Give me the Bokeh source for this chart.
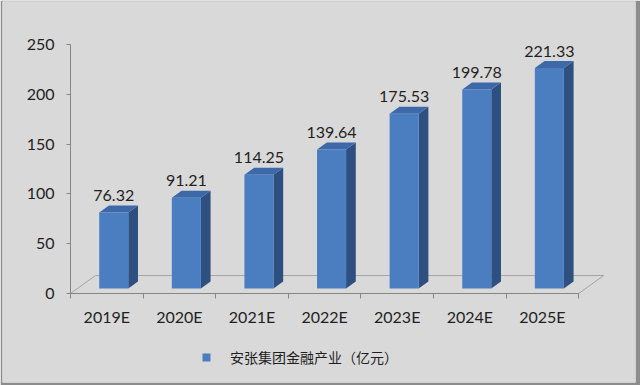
from bokeh.plotting import figure
from bokeh.models import Range1d, FixedTicker, Legend, LegendItem, ColumnDataSource, LinearAxis
from bokeh.embed import file_html
from bokeh.resources import INLINE
from bokeh.core.properties import value

categories = ["2019E", "2020E", "2021E", "2022E", "2023E", "2024E", "2025E"]
values = [76.32, 91.21, 114.25, 139.64, 175.53, 199.78, 221.33]
y_ticks = [0, 50, 100, 150, 200, 250]
series_name = "安张集团金融产业（亿元）"

n = len(categories)
xs = list(range(n))

# 3D geometry in data units
FLOOR_DX, FLOOR_DY = 0.344, 18.0
BAR_Z0 = 5.0 / 18.0
BAR_DEPTH = 7.0 / 18.0
BAR_LEFT, BAR_W = 0.30, 0.40

ddx = FLOOR_DX * BAR_DEPTH
ddy = FLOOR_DY * BAR_DEPTH
base = FLOOR_DY * BAR_Z0

L = [x - 0.5 + BAR_LEFT + FLOOR_DX * BAR_Z0 for x in xs]
R = [l + BAR_W for l in L]
B = [base] * n
T = [v + base for v in values]

front = ColumnDataSource(dict(left=L, right=R, bottom=B, top=T))
top_xs = [[l, r, r + ddx, l + ddx] for l, r in zip(L, R)]
top_ys = [[t, t, t + ddy, t + ddy] for t in T]
side_xs = [[r, r + ddx, r + ddx, r] for r in R]
side_ys = [[b, b + ddy, t + ddy, t] for b, t in zip(B, T)]

FONT = "Lato"
FS = "16px"
TXT = "#1f1f1f"
AX = "#868686"

p = figure(width=640, height=385, output_backend="svg", toolbar_location=None,
           x_range=Range1d(-1.4366, 7.282), y_range=Range1d(-89.4, 293.2),
           x_axis_type=None, y_axis_type=None,
           min_border_left=2, min_border_right=5, min_border_top=1, min_border_bottom=3)
p.border_fill_color = "#8c8c8c"
p.background_fill_color = "#d9d9d9"
p.outline_line_color = None

# floor
p.patch(x=[-0.5, 6.5, 6.5 + FLOOR_DX, -0.5 + FLOOR_DX],
        y=[0, 0, FLOOR_DY, FLOOR_DY],
        fill_color=None, line_color="#a3a3a3", line_width=1)

p.patches(xs=side_xs, ys=side_ys, fill_color="#2e5080", line_color=None)
p.patches(xs=top_xs, ys=top_ys, fill_color="#3d69a8", line_color=None)
front_r = p.quad(left="left", right="right", bottom="bottom", top="top", source=front,
                 fill_color="#4a7ec0", line_color=None)

# value labels
lab_x = [(l + r) / 2 for l, r in zip(L, R)]
lab_y = [t + ddy for t in T]
p.text(x=lab_x, y=lab_y, text=[f"{v:.2f}" for v in values], text_align="center",
       text_baseline="alphabetic", y_offset=-10, text_font=value(FONT),
       text_font_size=FS, text_color=TXT)

# y axis
yaxis = LinearAxis(fixed_location=-0.5, bounds=(0, 250), ticker=FixedTicker(ticks=y_ticks))
yaxis.axis_line_color = AX
yaxis.major_tick_line_color = AX
yaxis.major_tick_out = 4
yaxis.major_tick_in = 0
yaxis.minor_tick_line_color = None
yaxis.major_label_standoff = 12
yaxis.major_label_text_font = FONT
yaxis.major_label_text_font_size = FS
yaxis.major_label_text_color = TXT
p.add_layout(yaxis, "left")

# x axis
xaxis = LinearAxis(fixed_location=0, bounds=(-0.5, n - 0.5),
                   ticker=FixedTicker(ticks=xs, minor_ticks=[i - 0.5 for i in range(n + 1)]),
                   major_label_overrides={i: c for i, c in enumerate(categories)})
xaxis.axis_line_color = AX
xaxis.major_tick_line_color = None
xaxis.minor_tick_line_color = AX
xaxis.minor_tick_out = 5
xaxis.minor_tick_in = 0
xaxis.major_label_standoff = 8
xaxis.major_label_text_font = FONT
xaxis.major_label_text_font_size = FS
xaxis.major_label_text_color = TXT
p.add_layout(xaxis, "below")

legend = Legend(items=[LegendItem(label=series_name, renderers=[front_r])],
                location=(199, 15), orientation="horizontal",
                glyph_width=10, glyph_height=10, label_standoff=19,
                padding=0, margin=0, border_line_color=None, background_fill_alpha=0,
                label_text_font="Noto Sans CJK SC", label_text_font_size="14px",
                label_text_color=TXT)
p.add_layout(legend, "center")

open("out.html", "w").write(file_html(p, INLINE))
